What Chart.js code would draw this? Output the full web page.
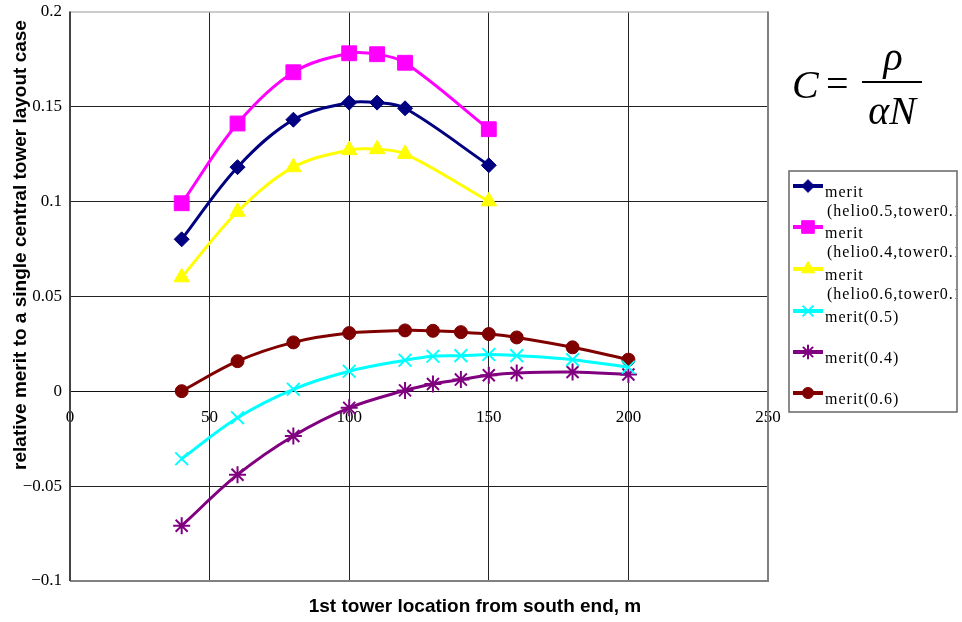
<!DOCTYPE html>
<html>
<head>
<meta charset="utf-8">
<script src="https://cdn.jsdelivr.net/npm/chart.js@4/dist/chart.umd.min.js"></script>
<style>
html,body{margin:0;padding:0;background:#fff;}
#wrap{width:962px;height:622px;position:relative;}
</style>
</head>
<body>
<div id="wrap"><canvas id="c" width="962" height="622"></canvas></div>
<script>
// ---- data ----
const xA = [40, 60, 80, 100, 110, 120, 150];
const xB = [40, 60, 80, 100, 120, 130, 140, 150, 160, 180, 200];
const heliom05 = [0.080, 0.118, 0.143, 0.152, 0.152, 0.149, 0.119];
const heliom04 = [0.099, 0.141, 0.168, 0.178, 0.1775, 0.173, 0.138];
const heliom06 = [0.060, 0.0945, 0.118, 0.127, 0.1275, 0.125, 0.100];
const merit05 = [-0.0356, -0.014, 0.001, 0.0105, 0.0163, 0.0184, 0.0187, 0.0193, 0.0187, 0.0166, 0.0126];
const merit04 = [-0.0709, -0.044, -0.0236, -0.0088, 0.0004, 0.0038, 0.0061, 0.0084, 0.0096, 0.0101, 0.0088];
const merit06 = [0.000, 0.0158, 0.0257, 0.0306, 0.032, 0.0318, 0.0311, 0.0301, 0.0283, 0.0231, 0.0166];
const xTickLabels = ['0', '50', '100', '150', '200', '250'];
const yTickLabels = ['\u22120.1', '\u22120.05', '0', '0.05', '0.1', '0.15', '0.2'];
const legendLabels = [
  ['merit', '(helio0.5,tower0.1)'],
  ['merit', '(helio0.4,tower0.1)'],
  ['merit', '(helio0.6,tower0.1)'],
  ['merit(0.5)'],
  ['merit(0.4)'],
  ['merit(0.6)']
];
const xTitle = '1st tower location from south end, m';
const yTitle = 'relative merit to a single central tower layout case';

const pts = (xs, ys) => xs.map((x, i) => ({x: x, y: ys[i]}));

const styles = [
  {color: '#000080', style: 'rectRot', r: 7.5, bw: 1},
  {color: '#FF00FF', style: 'rect', r: 10.5, bw: 1},
  {color: '#FFFF00', style: 'triangle', r: 9, bw: 1},
  {color: '#00FFFF', style: 'crossRot', r: 9, bw: 2},
  {color: '#800080', style: 'star', r: 8.5, bw: 2},
  {color: '#800000', style: 'circle', r: 6.5, bw: 1}
];
const seriesData = [pts(xA, heliom05), pts(xA, heliom04), pts(xA, heliom06), pts(xB, merit05), pts(xB, merit04), pts(xB, merit06)];

const datasets = seriesData.map((d, i) => ({
  label: legendLabels[i].join(' '),
  data: d,
  showLine: true,
  borderColor: styles[i].color,
  backgroundColor: styles[i].color,
  borderWidth: 3,
  tension: 0.35,
  pointStyle: styles[i].style,
  pointRadius: styles[i].r,
  pointHoverRadius: styles[i].r,
  pointBorderWidth: styles[i].bw,
  pointBorderColor: styles[i].color,
  pointBackgroundColor: styles[i].color,
  clip: false
}));

const decor = {
  id: 'decor',
  beforeDatasetsDraw(chart) {
    const {ctx, chartArea: a} = chart;
    ctx.save();
    ctx.lineWidth = 1.5;
    ctx.strokeStyle = '#bbb';
    ctx.beginPath(); ctx.moveTo(a.left, a.top + 0.5); ctx.lineTo(a.right, a.top + 0.5); ctx.stroke();
    ctx.strokeStyle = '#808080';
    ctx.lineWidth = 2;
    ctx.beginPath(); ctx.moveTo(a.right, a.top); ctx.lineTo(a.right, a.bottom); ctx.lineTo(a.left, a.bottom); ctx.stroke();
    ctx.strokeStyle = '#444';
    ctx.beginPath(); ctx.moveTo(a.left, a.top); ctx.lineTo(a.left, a.bottom); ctx.stroke();
    ctx.restore();
  },
  afterDraw(chart) {
    const {ctx} = chart;
    ctx.save();
    // axis titles
    ctx.fillStyle = '#000';
    ctx.font = 'bold 19px "Liberation Sans", Arial, sans-serif';
    ctx.textAlign = 'center';
    ctx.textBaseline = 'middle';
    ctx.fillText(xTitle, 475, 607);
    ctx.save();
    ctx.translate(21, 245);
    ctx.rotate(-Math.PI / 2);
    ctx.fillText(yTitle, 0, 0);
    ctx.restore();

    // formula
    ctx.textBaseline = 'alphabetic';
    ctx.textAlign = 'left';
    ctx.font = 'italic 40px "Liberation Serif", "Times New Roman", serif';
    ctx.fillText('C', 792, 98);
    ctx.font = '40px "Liberation Serif", "Times New Roman", serif';
    ctx.fillText('=', 826, 97);
    ctx.fillRect(862, 81, 60, 2);
    ctx.font = 'italic 40px "Liberation Serif", "Times New Roman", serif';
    ctx.textAlign = 'center';
    ctx.fillText('\u03C1', 893, 70);
    ctx.fillText('\u03B1N', 892, 124);

    // legend box
    const L = {x: 789, y: 171, w: 168, h: 241};
    ctx.fillStyle = '#fff';
    ctx.fillRect(L.x, L.y, L.w, L.h);
    ctx.strokeStyle = '#666';
    ctx.lineWidth = 1.5;
    ctx.strokeRect(L.x, L.y, L.w, L.h);
    const lineYs = [186, 227, 269, 311, 352, 393];
    ctx.save();
    ctx.beginPath(); ctx.rect(L.x, L.y, L.w - 1, L.h); ctx.clip();
    lineYs.forEach((ly, i) => {
      const s = styles[i];
      ctx.strokeStyle = s.color;
      ctx.lineWidth = 4;
      ctx.beginPath(); ctx.moveTo(793, ly); ctx.lineTo(823, ly); ctx.stroke();
      ctx.fillStyle = s.color;
      ctx.strokeStyle = s.color;
      ctx.lineWidth = s.bw;
      Chart.helpers.drawPoint(ctx, {pointStyle: s.style, radius: s.r * 0.85, borderWidth: s.bw, rotation: 0}, 808, ly);
      ctx.fillStyle = '#000';
      ctx.font = '16px "Liberation Serif", "Times New Roman", serif';
      ctx.letterSpacing = '1px';
      ctx.textAlign = 'left';
      ctx.textBaseline = 'middle';
      const lbl = legendLabels[i];
      ctx.fillText(lbl[0], 825, ly + 7);
      if (lbl[1]) ctx.fillText(lbl[1], 827, ly + 26);
      ctx.letterSpacing = '0px';
    });
    ctx.restore();
    ctx.restore();
  }
};

const noPad = (s) => { s.paddingTop = 0; s.paddingBottom = 0; s.paddingLeft = 0; s.paddingRight = 0; };

new Chart(document.getElementById('c'), {
  type: 'scatter',
  data: {datasets: datasets},
  options: {
    responsive: false,
    animation: false,
    events: [],
    layout: {padding: {left: 0, top: 10, right: 194, bottom: 41}},
    plugins: {legend: {display: false}, tooltip: {enabled: false}, title: {display: false}},
    scales: {
      x: {
        type: 'linear',
        position: {y: 0},
        min: 0, max: 250,
        afterFit: noPad,
        ticks: {
          stepSize: 50,
          padding: 16,
          color: '#000',
          font: {family: '"Liberation Serif", "Times New Roman", serif', size: 17},
          callback: (v) => xTickLabels[Math.round(v / 50)]
        },
        grid: {
          drawTicks: false,
          color: (c) => (c.tick && (c.tick.value === 0 || c.tick.value === 250)) ? 'rgba(0,0,0,0)' : '#222',
          lineWidth: 1
        },
        border: {display: true, color: '#111', width: 1}
      },
      y: {
        type: 'linear',
        min: -0.1, max: 0.2,
        afterFit: (s) => { noPad(s); s.width = 70; },
        ticks: {
          stepSize: 0.05,
          padding: 8,
          color: '#000',
          font: {family: '"Liberation Serif", "Times New Roman", serif', size: 17},
          callback: (v) => yTickLabels[Math.round((v + 0.1) / 0.05)]
        },
        grid: {
          drawTicks: false,
          color: (c) => (c.tick && (Math.abs(c.tick.value + 0.1) < 1e-9 || Math.abs(c.tick.value - 0.2) < 1e-9)) ? 'rgba(0,0,0,0)' : '#222',
          lineWidth: 1
        },
        border: {display: false}
      }
    }
  },
  plugins: [decor]
});
</script>
</body>
</html>
